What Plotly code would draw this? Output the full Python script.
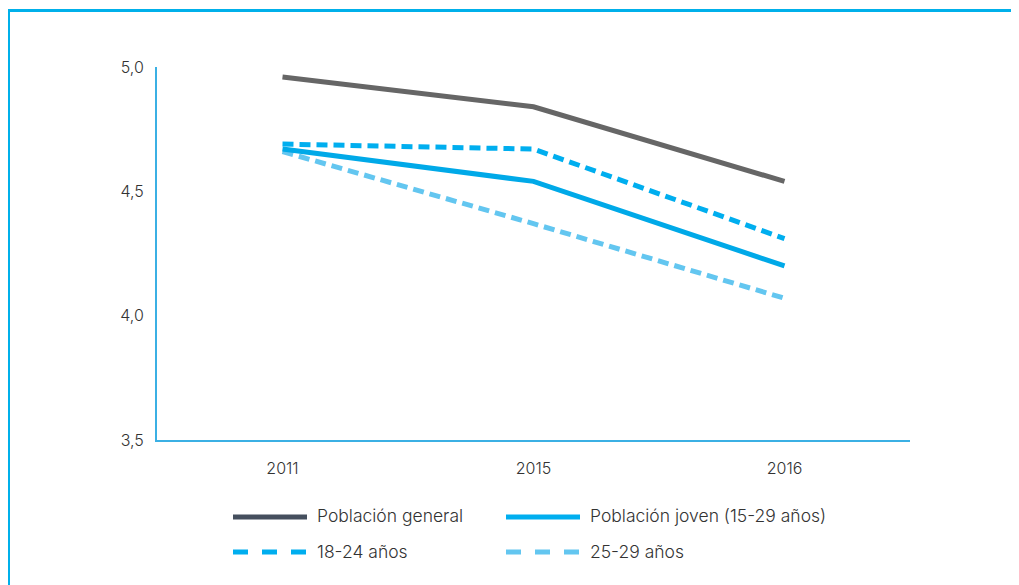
import plotly.graph_objects as go

# ---- data ----
years = ["2011", "2015", "2016"]
poblacion_general = [4.96, 4.84, 4.54]
poblacion_joven = [4.67, 4.54, 4.20]
edad_18_24 = [4.69, 4.67, 4.31]
edad_25_29 = [4.66, 4.37, 4.07]
series_names = ["Población general", "Población joven (15-29 años)", "18-24 años", "25-29 años"]
y_ticks = [3.5, 4.0, 4.5, 5.0]

# ---- layout geometry (pixels, page coordinates; page body has 8px margin) ----
OFF = 8
W, H = 1019 - OFF, 585 - OFF
L, R, T, B = 157 - OFF, 109, 67 - OFF, 145
PW, PH = W - L - R, H - T - B

def px(x):
    return (x - OFF - L) / PW

def py(y):
    return (T + PH - (y - OFF)) / PH

line_colors = ["#666666", "#00a9e8", "#00aeef", "#63c6f0"]
legend_colors = ["#454f5e", "#00aeef", "#00aeef", "#63c6f0"]
dashes = ["solid", "solid", "11px,6px", "11px,6px"]
values = [poblacion_general, poblacion_joven, edad_18_24, edad_25_29]
order = [3, 1, 2, 0]

fig = go.Figure()
for i in order:
    fig.add_trace(go.Scatter(
        x=years, y=values[i], name=series_names[i], mode="lines",
        line=dict(color=line_colors[i], width=5, dash=dashes[i]),
        showlegend=False,
    ))

axis_color = "#3bb0e4"
font_family = "Inter, 'Open Sans', sans-serif"
text_color = "#333333"

shapes = [
    # outer frame: left and top
    dict(type="line", xref="paper", yref="paper", x0=px(8.5), x1=px(8.5), y0=py(9), y1=py(600),
         line=dict(color="#00b0ea", width=3)),
    dict(type="line", xref="paper", yref="paper", x0=px(7), x1=px(1030), y0=py(10.5), y1=py(10.5),
         line=dict(color="#00b0ea", width=3)),
]

annotations = []
legend_pos = [(233, 517), (506, 517), (233, 552), (506, 552)]
for i, (lx, ly) in enumerate(legend_pos):
    dash = "solid" if i < 2 else "15px,14px"
    shapes.append(dict(type="line", xref="paper", yref="paper",
                       x0=px(lx), x1=px(lx + 74), y0=py(ly), y1=py(ly),
                       line=dict(color=legend_colors[i], width=5, dash=dash)))
    annotations.append(dict(xref="paper", yref="paper", x=px(lx + 82), y=py(ly - 1),
                            xanchor="left", yanchor="middle", showarrow=False,
                            text=series_names[i],
                            font=dict(family=font_family, size=17.5, color=text_color, weight=300)))

fig.update_layout(
    width=W, height=H,
    margin=dict(l=L, r=R, t=T, b=B, pad=0),
    paper_bgcolor="white", plot_bgcolor="white",
    separators=",.",
    font=dict(family=font_family, size=16, color=text_color, weight=300),
    showlegend=False,
    shapes=shapes,
    annotations=annotations,
    xaxis=dict(
        type="category", range=[-0.5, 2.5], showgrid=False, zeroline=False,
        showline=True, linecolor=axis_color, linewidth=2,
        ticks="", ticklabelstandoff=13,
        tickfont=dict(family=font_family, size=16, color=text_color, weight=300),
    ),
    yaxis=dict(
        range=[3.5, 5.0], tickvals=y_ticks, tickformat=".1f",
        showgrid=False, zeroline=False,
        showline=True, linecolor=axis_color, linewidth=2,
        ticks="", ticklabelstandoff=8,
        tickfont=dict(family=font_family, size=16, color=text_color, weight=300),
    ),
)

fig.write_html("out.html")
